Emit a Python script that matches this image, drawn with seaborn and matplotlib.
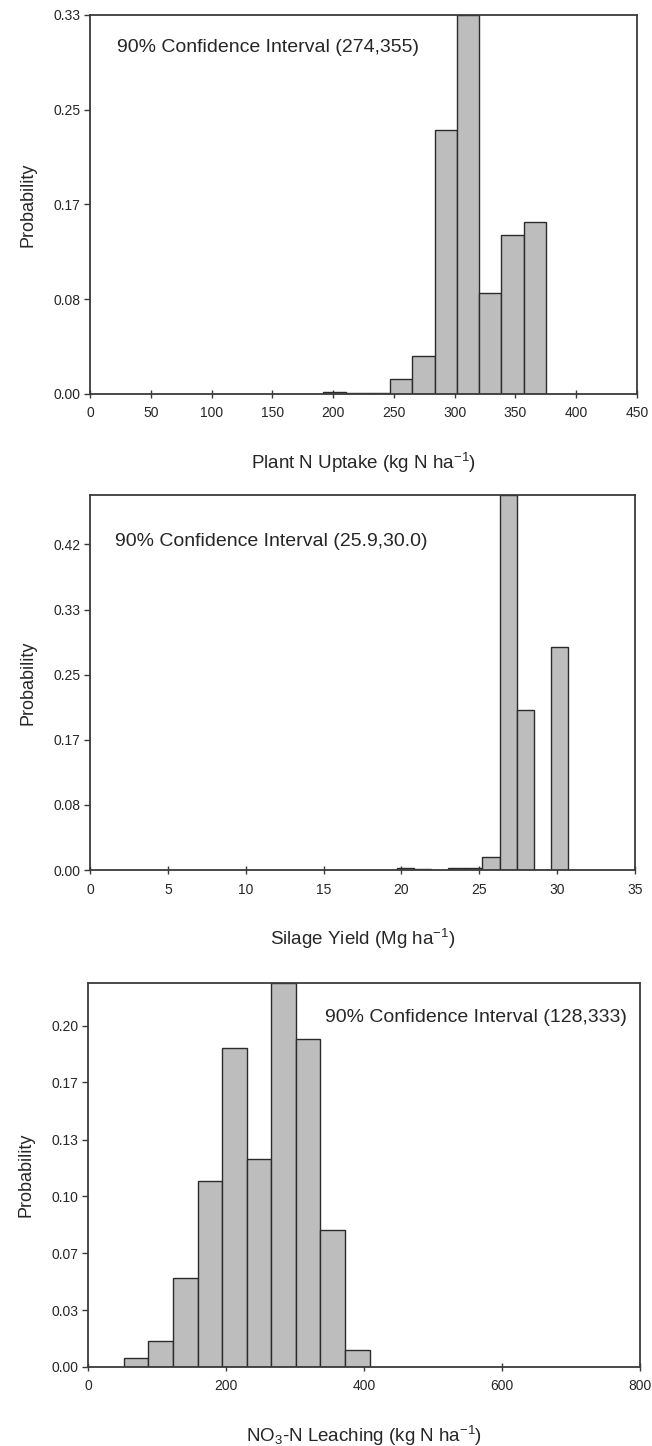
import numpy as np
import pandas as pd
import matplotlib
matplotlib.use("Agg")
import matplotlib.pyplot as plt
import seaborn as sns

# Plant N uptake (kg N/ha): bin edges and probability of each bin
uptake_edges = [192, 210.3, 228.6, 246.9, 265.2, 283.5, 301.8, 320.1, 338.4, 356.7, 375]
uptake_prob = [0.002, 0.001, 0.001, 0.013, 0.033, 0.232, 0.333, 0.089, 0.140, 0.151]
uptake_yticks = [0.0, 0.0833, 0.1667, 0.25, 0.3333]
uptake_xticks = [0, 50, 100, 150, 200, 250, 300, 350, 400, 450]

# Silage yield (Mg/ha)
yield_edges = [19.7, 20.8, 21.9, 23.0, 24.1, 25.2, 26.3, 27.4, 28.5, 29.6, 30.7]
yield_prob = [0.003, 0.001, 0.0, 0.002, 0.003, 0.017, 0.480, 0.205, 0.0, 0.285]
yield_yticks = [0.0, 0.0833, 0.1667, 0.25, 0.3333, 0.4167]
yield_xticks = [0, 5, 10, 15, 20, 25, 30, 35]

# NO3-N leaching (kg N/ha)
leach_edges = [52, 87.6, 123.2, 158.8, 194.4, 230, 265.6, 301.2, 336.8, 372.4, 408]
leach_prob = [0.005, 0.015, 0.052, 0.109, 0.187, 0.122, 0.225, 0.192, 0.080, 0.010]
leach_yticks = [0.0, 0.0333, 0.0667, 0.10, 0.1333, 0.1667, 0.20]
leach_xticks = [0, 200, 400, 600, 800]

panels = [
    dict(edges=uptake_edges, prob=uptake_prob, yticks=uptake_yticks, xticks=uptake_xticks,
         xlim=(0, 450), ylim=(0, 0.3333),
         xlabel="Plant N Uptake (kg N ha$^{-1}$)",
         note="90% Confidence Interval (274,355)", note_xy=(0.049, 0.913), note_ha="left",
         rect=[90 / 652, 1 - 394 / 1446, 547 / 652, 379 / 1446]),
    dict(edges=yield_edges, prob=yield_prob, yticks=yield_yticks, xticks=yield_xticks,
         xlim=(0, 35), ylim=(0, 0.48),
         xlabel="Silage Yield (Mg ha$^{-1}$)",
         note="90% Confidence Interval (25.9,30.0)", note_xy=(0.046, 0.875), note_ha="left",
         rect=[90 / 652, 1 - 870 / 1446, 545 / 652, 375 / 1446]),
    dict(edges=leach_edges, prob=leach_prob, yticks=leach_yticks, xticks=leach_xticks,
         xlim=(0, 800), ylim=(0, 0.225),
         xlabel="NO$_3$-N Leaching (kg N ha$^{-1}$)",
         note="90% Confidence Interval (128,333)", note_xy=(0.976, 0.909), note_ha="right",
         rect=[88 / 652, 1 - 1367 / 1446, 552 / 652, 384 / 1446]),
]

sns.set_theme(style="white")
plt.rcParams["font.family"] = ["Liberation Sans", "DejaVu Sans"]
plt.rcParams["mathtext.fontset"] = "custom"
plt.rcParams["mathtext.rm"] = "Liberation Sans"
plt.rcParams["mathtext.it"] = "Liberation Sans:italic"
plt.rcParams["mathtext.bf"] = "Liberation Sans:bold"

fig = plt.figure(figsize=(6.52, 14.46), dpi=100)
fig.patch.set_facecolor("white")

axis_color = "#3a3a3a"

for p in panels:
    ax = fig.add_axes(p["rect"])
    edges = list(p["edges"])
    mids = [(a + b) / 2 for a, b in zip(edges[:-1], edges[1:])]
    df = pd.DataFrame({"value": mids, "prob": p["prob"]})
    sns.histplot(data=df, x="value", weights="prob", bins=edges, stat="count",
                 color="#bdbdbd", edgecolor="#2b2b2b", linewidth=1.0, alpha=1.0,
                 ax=ax)
    ax.set_xlim(*p["xlim"])
    ax.set_ylim(*p["ylim"])
    ax.set_xticks(p["xticks"])
    ax.set_xticklabels([str(v) for v in p["xticks"]])
    ax.set_yticks(p["yticks"])
    ax.set_yticklabels([f"{v:.2f}" for v in p["yticks"]])
    ax.tick_params(axis="y", direction="out", length=4, width=1, color=axis_color,
                   labelsize=10, pad=3, left=True)
    ax.tick_params(axis="x", direction="inout", length=6, width=1, color=axis_color,
                   labelsize=10, pad=6, bottom=True)
    for s in ax.spines.values():
        s.set_visible(True)
        s.set_color(axis_color)
        s.set_linewidth(1.3)
    ax.set_xlabel(p["xlabel"], fontsize=13.5, labelpad=22)
    ax.set_ylabel("Probability", fontsize=13, labelpad=12)
    ax.text(p["note_xy"][0], p["note_xy"][1], p["note"], transform=ax.transAxes,
            ha=p["note_ha"], va="center", fontsize=14)

fig.savefig("out.png", dpi=100, facecolor="white")
